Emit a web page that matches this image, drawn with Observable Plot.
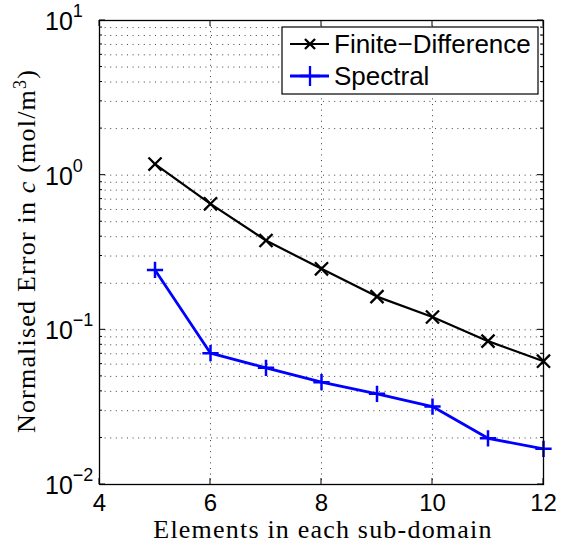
<!DOCTYPE html>
<html><head><meta charset="utf-8">
<script src="https://cdn.jsdelivr.net/npm/d3@7"></script>
<script src="https://cdn.jsdelivr.net/npm/@observablehq/plot@0.6"></script>
<style>body{margin:0;background:#fff} svg{display:block}</style>
</head><body><div id="chart"></div>
<script>
const elements = [5, 6, 7, 8, 9, 10, 11, 12];
const finiteDifference = [1.18, 0.653, 0.378, 0.248, 0.164, 0.121, 0.0845, 0.0627];
const spectral = [0.244, 0.0706, 0.0568, 0.0459, 0.0386, 0.0319, 0.0199, 0.0170];
const xTicks = [4, 6, 8, 10, 12];
const yDecades = [-2, -1, 0, 1];
const seriesNames = ["Finite\u2212Difference", "Spectral"];
const seriesColors = ["#000000", "#0000ff"];
const seriesSymbols = ["times", "plus"];
const xLabel = "Elements in each sub-domain";

const fd = elements.map((x, i) => ({x, y: finiteDifference[i]}));
const sp = elements.map((x, i) => ({x, y: spectral[i]}));
const majors = yDecades.map(e => 10 ** e);
const minors = [];
for (const e of yDecades.slice(0, -1)) for (let m = 2; m <= 9; m++) minors.push(m * 10 ** e);

const gridStyle = {stroke: "#000", strokeOpacity: 0.75, strokeDasharray: "1,4.6", strokeWidth: 1};
const sans = "Liberation Sans, Arial, sans-serif";

const chart = Plot.plot({
  width: 561, height: 548,
  marginLeft: 99, marginRight: 18, marginTop: 20, marginBottom: 64,
  style: {fontFamily: sans, fontSize: "24px", background: "#fff", color: "#000", overflow: "visible"},
  x: {domain: [4, 12], label: null, axis: null},
  y: {type: "log", domain: [0.01, 10], label: null, axis: null},
  marks: [
    Plot.ruleY([...minors, ...majors.slice(1, -1)], gridStyle),
    Plot.ruleX(xTicks.slice(1, -1), gridStyle),
    Plot.axisX(xTicks, {tickSize: 0, tickPadding: 9, fontSize: 24, fontFamily: sans}),
    Plot.line(fd, {x: "x", y: "y", stroke: seriesColors[0], strokeWidth: 2.2}),
    Plot.dot(fd, {x: "x", y: "y", symbol: seriesSymbols[0], r: 6, stroke: seriesColors[0], strokeWidth: 2.3}),
    Plot.line(sp, {x: "x", y: "y", stroke: seriesColors[1], strokeWidth: 2.8}),
    Plot.dot(sp, {x: "x", y: "y", symbol: seriesSymbols[1], r: 5.3, stroke: seriesColors[1], strokeWidth: 2.5}),
    Plot.frame({stroke: "#000", strokeWidth: 1.3})
  ]
});

const sx = chart.scale("x"), sy = chart.scale("y");
const svg = d3.select(chart);
const [x0, x1] = [sx.apply(4), sx.apply(12)];
const [yb, yt] = [sy.apply(0.01), sy.apply(10)];
const tk = svg.append("g").attr("stroke", "#000").attr("stroke-width", 1);
for (const v of majors) {
  const y = sy.apply(v);
  tk.append("line").attr("x1", x0).attr("x2", x0 + 6).attr("y1", y).attr("y2", y);
  tk.append("line").attr("x1", x1).attr("x2", x1 - 6).attr("y1", y).attr("y2", y);
}
for (const v of minors) {
  const y = sy.apply(v);
  tk.append("line").attr("x1", x0).attr("x2", x0 + 3).attr("y1", y).attr("y2", y);
  tk.append("line").attr("x1", x1).attr("x2", x1 - 3).attr("y1", y).attr("y2", y);
}
for (const v of xTicks) {
  const x = sx.apply(v);
  tk.append("line").attr("x1", x).attr("x2", x).attr("y1", yb).attr("y2", yb - 6);
  tk.append("line").attr("x1", x).attr("x2", x).attr("y1", yt).attr("y2", yt + 6);
}
// y tick labels with superscript exponents
const yl = svg.append("g").attr("font-family", sans).attr("fill", "#000").attr("text-anchor", "start");
for (const e of yDecades) {
  const y = sy.apply(10 ** e);
  const t = yl.append("text").attr("x", 45).attr("y", y + 10).attr("font-size", 25);
  t.append("tspan").text("10");
  t.append("tspan").attr("dy", -13).attr("font-size", 18).text(e < 0 ? "\u2212" + (-e) : String(e));
}
// axis titles
const serif = "Liberation Serif, Times New Roman, serif";
svg.append("text").attr("x", 323).attr("y", 538).attr("text-anchor", "middle")
  .attr("font-family", serif).attr("font-size", 26).attr("letter-spacing", 1.2).text(xLabel);
const ylab = svg.append("text").attr("transform", "translate(35,251) rotate(-90)").attr("text-anchor", "middle")
  .attr("font-family", serif).attr("font-size", 26).attr("letter-spacing", 1.2);
ylab.append("tspan").text("Normalised Error in ");
ylab.append("tspan").attr("font-style", "italic").text("c");
ylab.append("tspan").text(" (mol/m");
ylab.append("tspan").attr("dy", -9).attr("font-size", 18).text("3");
ylab.append("tspan").attr("dy", 9).text(")");
// legend
const lg = svg.append("g");
lg.append("rect").attr("x", 282).attr("y", 27).attr("width", 256).attr("height", 67)
  .attr("fill", "#fff").attr("stroke", "#000").attr("stroke-width", 1.2);
const rows = [44, 76];
seriesNames.forEach((name, i) => {
  const y = rows[i];
  lg.append("line").attr("x1", 290).attr("x2", 329).attr("y1", y).attr("y2", y)
    .attr("stroke", seriesColors[i]).attr("stroke-width", i === 0 ? 2.2 : 2.8);
  const s = d3.symbol(i === 0 ? d3.symbolTimes : d3.symbolPlus, i === 0 ? 68 : 132)();
  lg.append("path").attr("d", s).attr("transform", `translate(310,${y})`).attr("fill", "none")
    .attr("stroke", seriesColors[i]).attr("stroke-width", 2.3);
  lg.append("text").attr("x", 334).attr("y", y + 9).attr("text-anchor", "start").attr("font-family", sans)
    .attr("font-size", 26).text(name);
});
document.getElementById("chart").append(chart);
</script>
</body></html>
